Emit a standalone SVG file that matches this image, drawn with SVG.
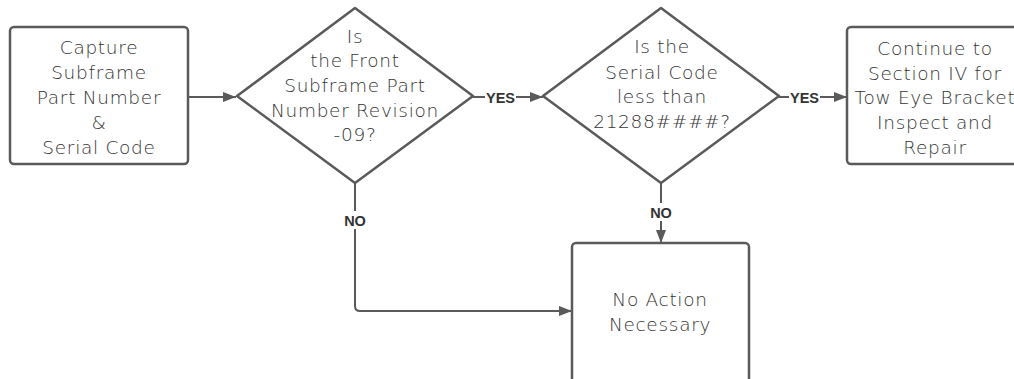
<svg xmlns="http://www.w3.org/2000/svg" width="1014" height="379" viewBox="0 0 1014 379">
<style>
.shape{fill:#ffffff;stroke:#5a5a5a;stroke-width:2.5;stroke-linejoin:round}
.txt{font-family:"DejaVu Sans","Liberation Sans",sans-serif;font-size:18.5px;font-weight:300;fill:#333333;text-anchor:middle;letter-spacing:0.7px}
.conn{fill:none;stroke:#5a5a5a;stroke-width:2}
.lbl{font-family:"Liberation Sans",Arial,sans-serif;font-size:14.5px;font-weight:bold;fill:#333333;text-anchor:middle}
.lblbg{fill:#ffffff}
</style>
<defs>
<marker id="arr" viewBox="0 0 13 10" refX="13" refY="5" markerWidth="13" markerHeight="10" markerUnits="userSpaceOnUse" orient="auto">
<path d="M0,0 L13,5 L0,10 Z" fill="#5a5a5a"/>
</marker>
</defs>
<rect width="1014" height="379" fill="#ffffff"/>
<g id="connectors">
<path class="conn" d="M188,97 L236,97" marker-end="url(#arr)"/>
<path class="conn" d="M473,97 L543,97" marker-end="url(#arr)"/>
<rect class="lblbg" x="485" y="88" width="31" height="18"/>
<text class="lbl" x="500.5" y="102.5">YES</text>
<path class="conn" d="M779,97 L847,97" marker-end="url(#arr)"/>
<rect class="lblbg" x="789" y="88" width="31" height="18"/>
<text class="lbl" x="804.5" y="102.5">YES</text>
<path class="conn" d="M355,183 L355,306 Q355,311 360,311 L572,311" marker-end="url(#arr)"/>
<rect class="lblbg" x="340" y="211" width="30" height="18"/>
<text class="lbl" x="355" y="225.5">NO</text>
<path class="conn" d="M661,183 L661,243" marker-end="url(#arr)"/>
<rect class="lblbg" x="646" y="203" width="30" height="18"/>
<text class="lbl" x="661" y="217.5">NO</text>
</g>
<g id="capture">
<rect class="shape" x="10" y="27" width="178" height="137" rx="4"/>
<text class="txt" x="99" y="54">Capture</text>
<text class="txt" x="99" y="79">Subframe</text>
<text class="txt" x="99" y="104">Part Number</text>
<text class="txt" x="99" y="129">&amp;</text>
<text class="txt" x="99" y="154">Serial Code</text>
</g>
<g id="decision1">
<path class="shape" d="M355,8 L473,96 L355,183 L237,96 Z"/>
<text class="txt" x="355" y="43">Is</text>
<text class="txt" x="355" y="67">the Front</text>
<text class="txt" x="355" y="92">Subframe Part</text>
<text class="txt" x="355" y="117">Number Revision</text>
<text class="txt" x="355" y="141">-09?</text>
</g>
<g id="decision2">
<path class="shape" d="M661,8 L779,96 L661,183 L543,96 Z"/>
<text class="txt" x="662" y="53">Is the</text>
<text class="txt" x="662" y="79">Serial Code</text>
<text class="txt" x="662" y="103">less than</text>
<text class="txt" x="662" y="128">21288####?</text>
</g>
<g id="continue">
<rect class="shape" x="847" y="27" width="178" height="137" rx="4"/>
<text class="txt" x="935" y="55">Continue to</text>
<text class="txt" x="935" y="80">Section IV for</text>
<text class="txt" x="935" y="104">Tow Eye Bracket</text>
<text class="txt" x="935" y="129">Inspect and</text>
<text class="txt" x="935" y="154">Repair</text>
</g>
<g id="noaction">
<rect class="shape" x="572" y="243" width="177" height="150" rx="4"/>
<text class="txt" x="660" y="306">No Action</text>
<text class="txt" x="660" y="331">Necessary</text>
</g>
</svg>
